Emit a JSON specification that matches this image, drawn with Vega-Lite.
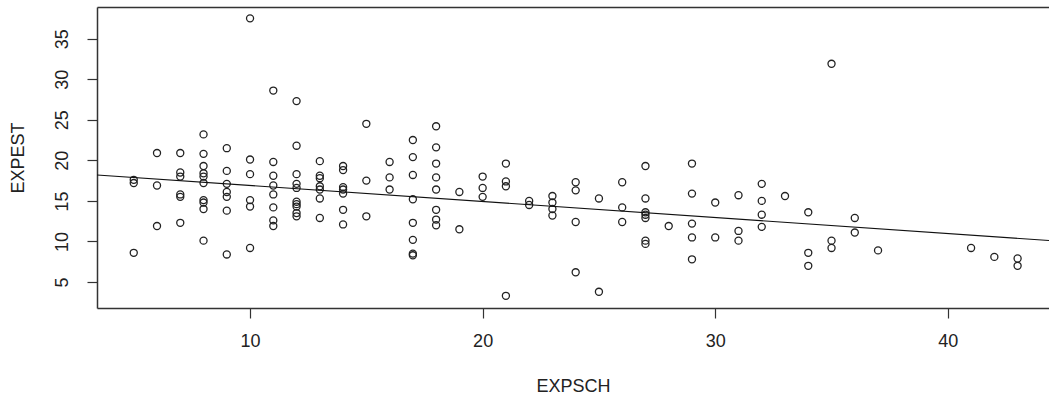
{
  "$schema": "https://vega.github.io/schema/vega-lite/v6.json",
  "autosize": {"type": "none"},
  "padding": {"left": 97, "top": 7, "right": 0, "bottom": 92},
  "width": 952,
  "height": 301,
  "background": "white",
  "config": {
    "view": {"stroke": null},
    "font": "Liberation Sans",
    "axis": {
      "labelFont": "Liberation Sans",
      "titleFont": "Liberation Sans",
      "labelFontSize": 18,
      "titleFontSize": 18,
      "titleFontWeight": "normal",
      "labelColor": "#222",
      "titleColor": "#222",
      "domainColor": "#333",
      "domainWidth": 1.5,
      "tickColor": "#333",
      "tickWidth": 1.2,
      "tickSize": 10,
      "grid": false
    }
  },
  "datasets": {
    "pts": [
      {"EXPSCH":5,"EXPEST":17.6},{"EXPSCH":5,"EXPEST":17.2},{"EXPSCH":5,"EXPEST":8.6},
      {"EXPSCH":6,"EXPEST":20.9},{"EXPSCH":6,"EXPEST":16.9},{"EXPSCH":6,"EXPEST":11.9},
      {"EXPSCH":7,"EXPEST":20.9},{"EXPSCH":7,"EXPEST":18.5},{"EXPSCH":7,"EXPEST":18.0},{"EXPSCH":7,"EXPEST":15.8},{"EXPSCH":7,"EXPEST":15.5},{"EXPSCH":7,"EXPEST":12.3},
      {"EXPSCH":8,"EXPEST":23.2},{"EXPSCH":8,"EXPEST":20.8},{"EXPSCH":8,"EXPEST":19.3},{"EXPSCH":8,"EXPEST":18.4},{"EXPSCH":8,"EXPEST":18.0},{"EXPSCH":8,"EXPEST":17.2},{"EXPSCH":8,"EXPEST":15.1},{"EXPSCH":8,"EXPEST":14.8},{"EXPSCH":8,"EXPEST":14.0},{"EXPSCH":8,"EXPEST":10.1},
      {"EXPSCH":9,"EXPEST":21.5},{"EXPSCH":9,"EXPEST":18.7},{"EXPSCH":9,"EXPEST":17.1},{"EXPSCH":9,"EXPEST":16.1},{"EXPSCH":9,"EXPEST":15.5},{"EXPSCH":9,"EXPEST":13.8},{"EXPSCH":9,"EXPEST":8.4},
      {"EXPSCH":10,"EXPEST":37.5},{"EXPSCH":10,"EXPEST":20.1},{"EXPSCH":10,"EXPEST":18.3},{"EXPSCH":10,"EXPEST":15.1},{"EXPSCH":10,"EXPEST":14.3},{"EXPSCH":10,"EXPEST":9.2},
      {"EXPSCH":11,"EXPEST":28.6},{"EXPSCH":11,"EXPEST":19.8},{"EXPSCH":11,"EXPEST":18.1},{"EXPSCH":11,"EXPEST":16.9},{"EXPSCH":11,"EXPEST":15.8},{"EXPSCH":11,"EXPEST":14.2},{"EXPSCH":11,"EXPEST":12.6},{"EXPSCH":11,"EXPEST":11.9},
      {"EXPSCH":12,"EXPEST":27.3},{"EXPSCH":12,"EXPEST":21.8},{"EXPSCH":12,"EXPEST":18.3},{"EXPSCH":12,"EXPEST":17.1},{"EXPSCH":12,"EXPEST":16.6},{"EXPSCH":12,"EXPEST":14.9},{"EXPSCH":12,"EXPEST":14.6},{"EXPSCH":12,"EXPEST":14.3},{"EXPSCH":12,"EXPEST":13.5},{"EXPSCH":12,"EXPEST":13.1},
      {"EXPSCH":13,"EXPEST":19.9},{"EXPSCH":13,"EXPEST":18.1},{"EXPSCH":13,"EXPEST":17.8},{"EXPSCH":13,"EXPEST":16.8},{"EXPSCH":13,"EXPEST":16.4},{"EXPSCH":13,"EXPEST":15.3},{"EXPSCH":13,"EXPEST":12.9},
      {"EXPSCH":14,"EXPEST":19.3},{"EXPSCH":14,"EXPEST":18.8},{"EXPSCH":14,"EXPEST":16.7},{"EXPSCH":14,"EXPEST":16.4},{"EXPSCH":14,"EXPEST":15.9},{"EXPSCH":14,"EXPEST":13.9},{"EXPSCH":14,"EXPEST":12.1},
      {"EXPSCH":15,"EXPEST":24.5},{"EXPSCH":15,"EXPEST":17.5},{"EXPSCH":15,"EXPEST":13.1},
      {"EXPSCH":16,"EXPEST":19.8},{"EXPSCH":16,"EXPEST":17.9},{"EXPSCH":16,"EXPEST":16.4},
      {"EXPSCH":17,"EXPEST":22.5},{"EXPSCH":17,"EXPEST":20.4},{"EXPSCH":17,"EXPEST":18.2},{"EXPSCH":17,"EXPEST":15.2},{"EXPSCH":17,"EXPEST":12.3},{"EXPSCH":17,"EXPEST":10.2},{"EXPSCH":17,"EXPEST":8.5},{"EXPSCH":17,"EXPEST":8.3},
      {"EXPSCH":18,"EXPEST":24.2},{"EXPSCH":18,"EXPEST":21.6},{"EXPSCH":18,"EXPEST":19.6},{"EXPSCH":18,"EXPEST":17.9},{"EXPSCH":18,"EXPEST":16.4},{"EXPSCH":18,"EXPEST":13.9},{"EXPSCH":18,"EXPEST":12.7},{"EXPSCH":18,"EXPEST":12.0},
      {"EXPSCH":19,"EXPEST":16.1},{"EXPSCH":19,"EXPEST":11.5},
      {"EXPSCH":20,"EXPEST":18.0},{"EXPSCH":20,"EXPEST":16.6},{"EXPSCH":20,"EXPEST":15.5},
      {"EXPSCH":21,"EXPEST":19.6},{"EXPSCH":21,"EXPEST":17.4},{"EXPSCH":21,"EXPEST":16.8},{"EXPSCH":21,"EXPEST":3.3},
      {"EXPSCH":22,"EXPEST":15.0},{"EXPSCH":22,"EXPEST":14.5},
      {"EXPSCH":23,"EXPEST":15.6},{"EXPSCH":23,"EXPEST":14.8},{"EXPSCH":23,"EXPEST":14.0},{"EXPSCH":23,"EXPEST":13.2},
      {"EXPSCH":24,"EXPEST":17.3},{"EXPSCH":24,"EXPEST":16.3},{"EXPSCH":24,"EXPEST":12.4},{"EXPSCH":24,"EXPEST":6.2},
      {"EXPSCH":25,"EXPEST":15.3},{"EXPSCH":25,"EXPEST":3.8},
      {"EXPSCH":26,"EXPEST":17.3},{"EXPSCH":26,"EXPEST":14.2},{"EXPSCH":26,"EXPEST":12.4},
      {"EXPSCH":27,"EXPEST":19.3},{"EXPSCH":27,"EXPEST":15.3},{"EXPSCH":27,"EXPEST":13.6},{"EXPSCH":27,"EXPEST":13.3},{"EXPSCH":27,"EXPEST":12.9},{"EXPSCH":27,"EXPEST":10.1},{"EXPSCH":27,"EXPEST":9.7},
      {"EXPSCH":28,"EXPEST":11.9},
      {"EXPSCH":29,"EXPEST":19.6},{"EXPSCH":29,"EXPEST":15.9},{"EXPSCH":29,"EXPEST":12.2},{"EXPSCH":29,"EXPEST":10.5},{"EXPSCH":29,"EXPEST":7.8},
      {"EXPSCH":30,"EXPEST":14.8},{"EXPSCH":30,"EXPEST":10.5},
      {"EXPSCH":31,"EXPEST":15.7},{"EXPSCH":31,"EXPEST":11.3},{"EXPSCH":31,"EXPEST":10.1},
      {"EXPSCH":32,"EXPEST":17.1},{"EXPSCH":32,"EXPEST":15.0},{"EXPSCH":32,"EXPEST":13.3},{"EXPSCH":32,"EXPEST":11.8},
      {"EXPSCH":33,"EXPEST":15.6},
      {"EXPSCH":34,"EXPEST":13.6},{"EXPSCH":34,"EXPEST":8.6},{"EXPSCH":34,"EXPEST":7.0},
      {"EXPSCH":35,"EXPEST":31.9},{"EXPSCH":35,"EXPEST":10.1},{"EXPSCH":35,"EXPEST":9.2},
      {"EXPSCH":36,"EXPEST":12.9},{"EXPSCH":36,"EXPEST":11.1},
      {"EXPSCH":37,"EXPEST":8.9},
      {"EXPSCH":41,"EXPEST":9.2},
      {"EXPSCH":42,"EXPEST":8.1},
      {"EXPSCH":43,"EXPEST":7.9},{"EXPSCH":43,"EXPEST":7.0}
    ],
    "fit": [
      {"EXPSCH": 3.42, "EXPEST": 18.2},
      {"EXPSCH": 44.35, "EXPEST": 10.12}
    ]
  },
  "resolve": {"axis": {"x": "independent", "y": "independent"}},
  "layer": [
    {
      "data": {"name": "pts"},
      "mark": {"type": "point", "shape": "circle", "filled": false, "stroke": "#222", "strokeWidth": 1.3, "size": 50, "opacity": 1},
      "encoding": {
        "x": {"field": "EXPSCH", "type": "quantitative",
              "scale": {"domain": [3.42, 44.35], "nice": false, "zero": false},
              "axis": {"orient": "bottom", "values": [10, 20, 30, 40], "title": "EXPSCH", "labelPadding": 14, "titlePadding": 27}},
        "y": {"field": "EXPEST", "type": "quantitative",
              "scale": {"domain": [1.8, 38.9], "nice": false, "zero": false},
              "axis": {"orient": "left", "values": [5, 10, 15, 20, 25, 30, 35], "title": "EXPEST", "labelAngle": -90, "labelAlign": "center", "labelBaseline": "bottom", "labelPadding": 16, "titlePadding": 26}}
      }
    },
    {
      "data": {"name": "fit"},
      "mark": {"type": "line", "stroke": "#111", "strokeWidth": 1.1},
      "encoding": {
        "x": {"field": "EXPSCH", "type": "quantitative",
              "axis": {"orient": "top", "labels": false, "ticks": false, "title": null, "domain": true}},
        "y": {"field": "EXPEST", "type": "quantitative",
              "axis": {"orient": "right", "labels": false, "ticks": false, "title": null, "domain": false}}
      }
    }
  ]
}
